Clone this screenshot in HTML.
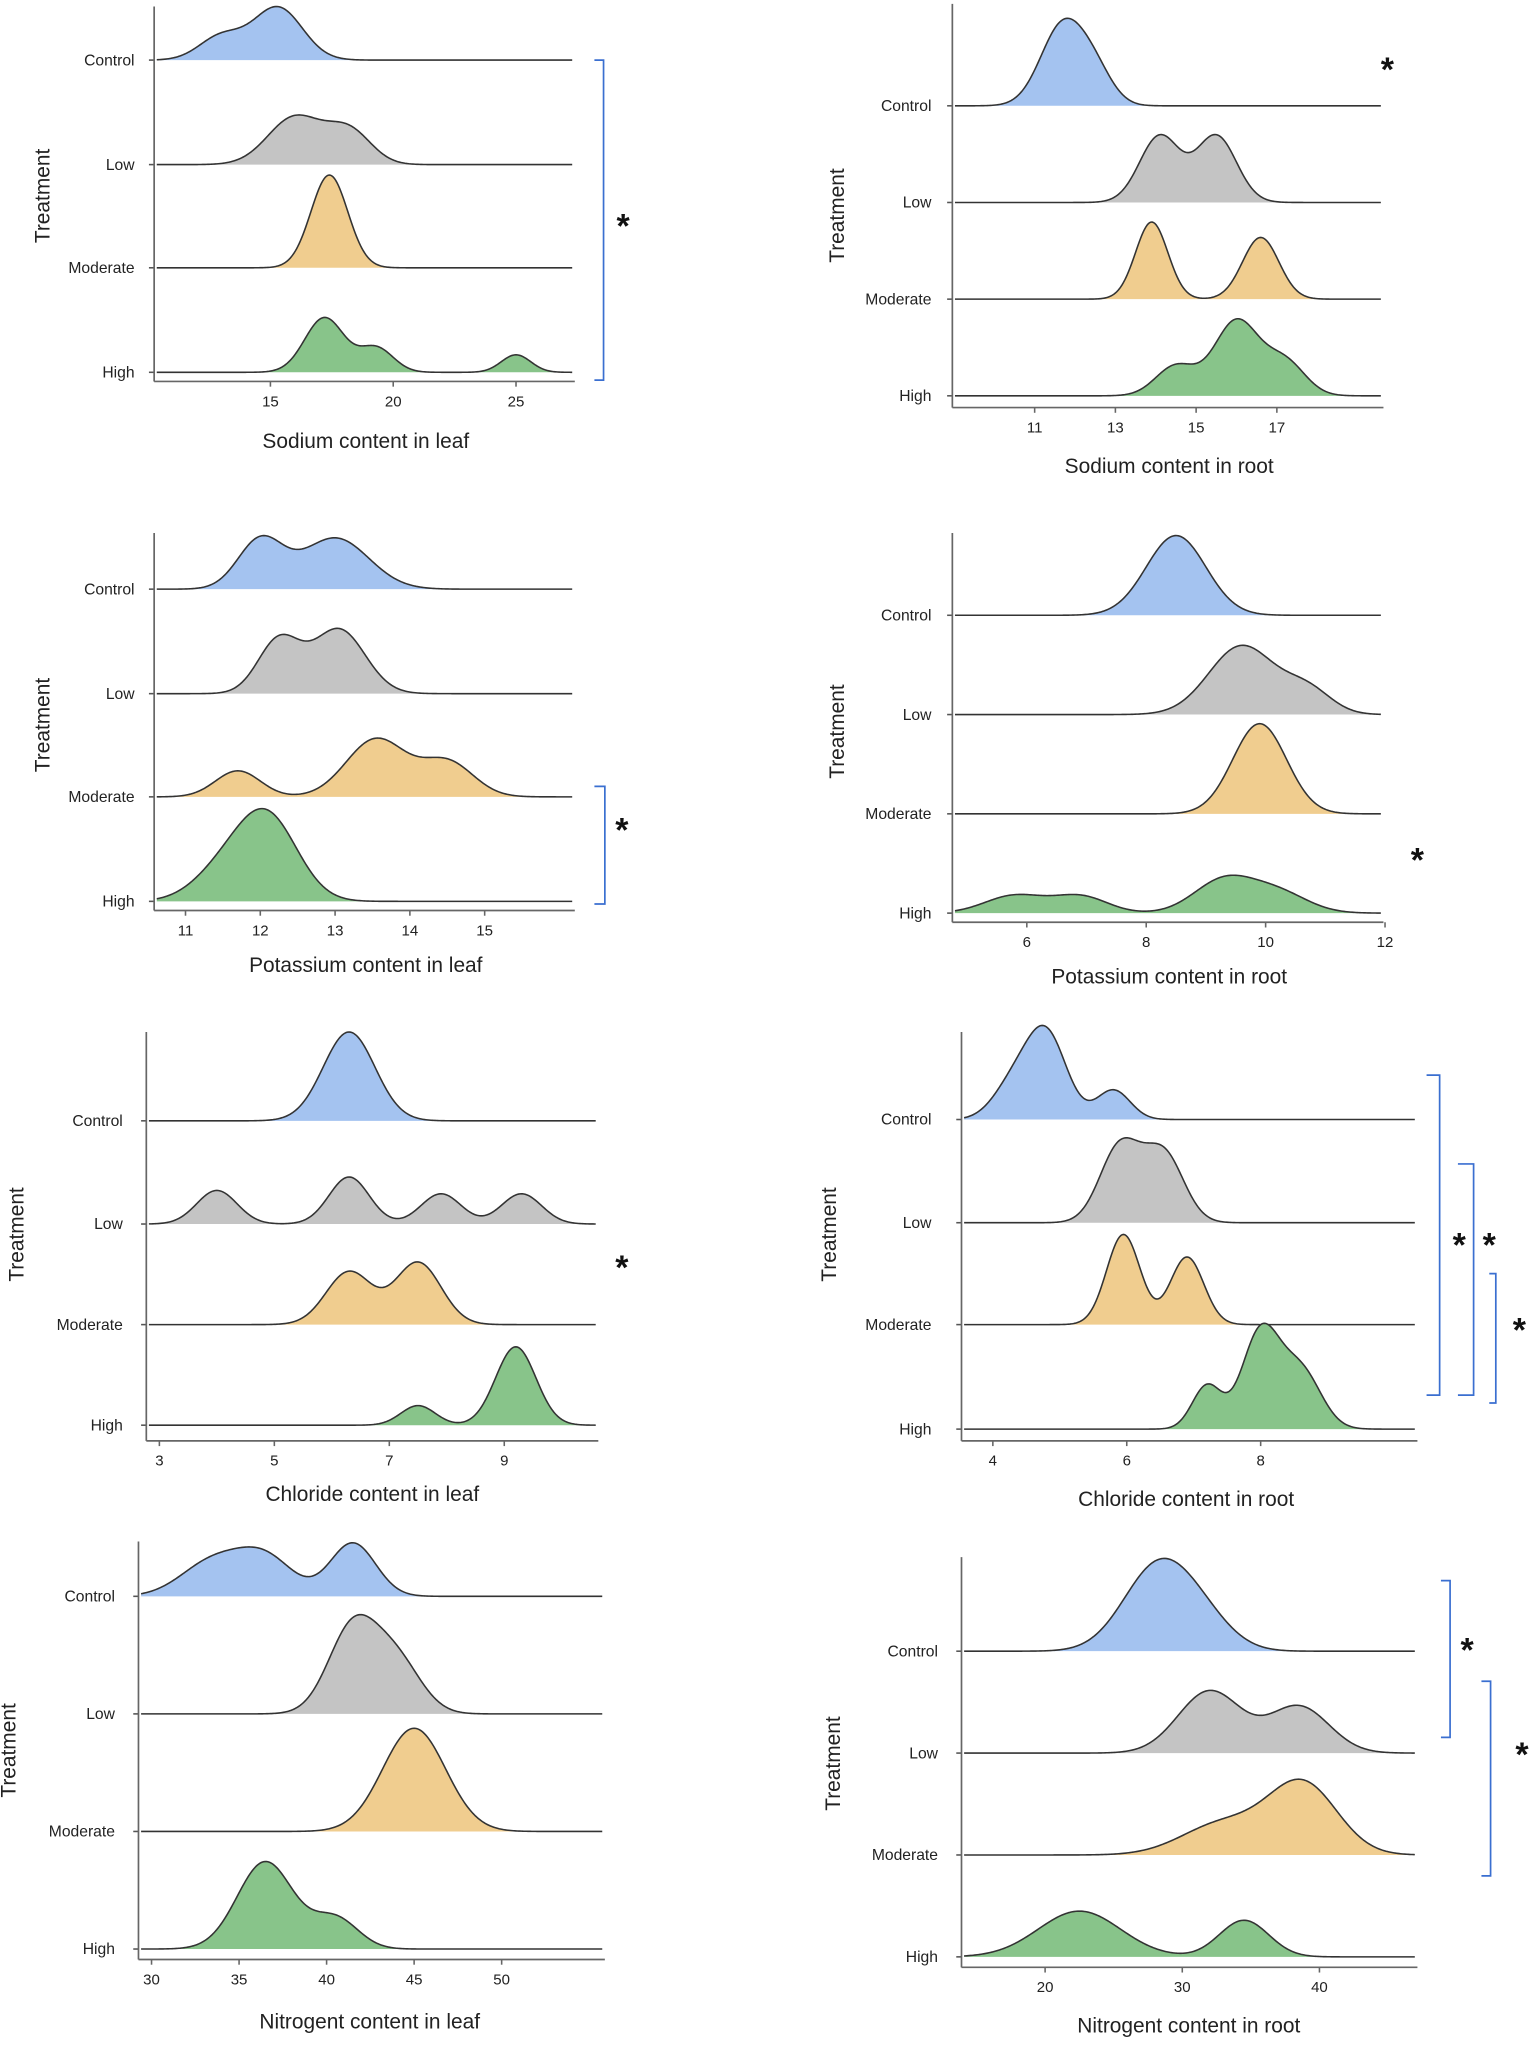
<!DOCTYPE html>
<html><head><meta charset="utf-8"><style>
html,body{margin:0;padding:0;background:#fff;}
svg{display:block;}
text{font-family:"Liberation Sans",sans-serif;fill:#222;}
</style></head><body>
<svg id="s" width="1535" height="2047" viewBox="0 0 1175 1567" preserveAspectRatio="none" xmlns="http://www.w3.org/2000/svg"></svg>
<script>
const cols=["#a4c3f0","#c4c4c4","#f0cd8f","#88c48a"];
const names=["Control","Low","Moderate","High"];
const P=[
{ax:118,top:5,base:[46,126,205,285],xa:292,end:438,v0:15,p0:207,ppu:18.8,ticks:[15,20,25],lr:103,xl:"Sodium content in leaf",xlx:280,xly:343,tx:38,ty:150,
 d:[[[15.3,1.0,1],[13,0.9,0.45]],[[16,1.1,1],[18.2,0.9,0.7]],[[17.4,0.75,1]],[[17.2,0.8,1],[19.3,0.7,0.45],[25,0.6,0.32]]],h:[41,38,71,42]},
{ax:729,top:3,base:[81,155,229,303],xa:312,end:1057,v0:11,p0:792,ppu:30.9,ticks:[11,13,15,17],lr:713,xl:"Sodium content in root",xlx:895,xly:362,tx:646,ty:165,
 d:[[[11.7,0.55,1],[12.5,0.45,0.35]],[[14.1,0.5,1],[15.5,0.5,1]],[[13.9,0.4,1],[16.6,0.45,0.8]],[[14.5,0.5,0.4],[16,0.55,1],[17.2,0.5,0.45]]],h:[67,52,59,59]},
{ax:118,top:408,base:[451,531,610,690],xa:697,end:438,v0:11,p0:142,ppu:57.25,ticks:[11,12,13,14,15],lr:103,xl:"Potassium content in leaf",xlx:280,xly:744,tx:38,ty:555,
 d:[[[12,0.3,1],[13,0.45,1.05]],[[12.25,0.28,1],[13.05,0.35,1.2]],[[11.7,0.3,0.45],[13.55,0.4,1],[14.5,0.35,0.6]],[[12.1,0.4,1],[11.5,0.4,0.35]]],h:[41,50,45,71]},
{ax:729,top:408,base:[471,547,623,699],xa:706,end:1057,v0:6,p0:786,ppu:45.7,ticks:[6,8,10,12],lr:713,xl:"Potassium content in root",xlx:895,xly:753,tx:646,ty:560,
 d:[[[8.5,0.5,1]],[[9.6,0.55,1],[10.7,0.4,0.35]],[[9.9,0.45,1]],[[5.8,0.5,0.35],[6.9,0.45,0.33],[9.3,0.5,0.65],[10.2,0.5,0.4]]],h:[61,53,69,29]},
{ax:112,top:790,base:[858,937,1014,1091],xa:1103,end:456,v0:3,p0:122,ppu:44,ticks:[3,5,7,9],lr:94,xl:"Chloride content in leaf",xlx:285,xly:1149,tx:18,ty:945,
 d:[[[6.3,0.45,1]],[[4,0.35,1],[6.3,0.35,1.4],[7.9,0.35,0.9],[9.3,0.35,0.9]],[[6.3,0.4,0.85],[7.5,0.4,1]],[[7.5,0.3,0.25],[9.2,0.35,1]]],h:[68,36,48,60]},
{ax:736,top:790,base:[857,936,1014,1094],xa:1103,end:1083,v0:4,p0:760,ppu:51.25,ticks:[4,6,8],lr:713,xl:"Chloride content in root",xlx:908,xly:1153,tx:640,ty:945,
 d:[[[4.8,0.3,1],[4.3,0.3,0.4],[5.8,0.25,0.35]],[[5.9,0.3,1],[6.55,0.3,0.9]],[[5.95,0.25,1],[6.9,0.25,0.75]],[[7.2,0.22,0.45],[8.0,0.28,1],[8.6,0.3,0.6]]],h:[72,65,69,81]},
{ax:106,top:1180,base:[1222,1312,1402,1492],xa:1500,end:461,v0:30,p0:116,ppu:13.4,ticks:[30,35,40,45,50],lr:88,xl:"Nitrogent content in leaf",xlx:283,xly:1553,tx:12,ty:1340,
 d:[[[33.5,1.8,0.65],[36.5,1.6,0.7],[41.5,1.3,1]],[[41.5,1.4,1],[44,1.4,0.6]],[[45,1.8,1]],[[36.5,1.6,1],[40.5,1.3,0.35]]],h:[41,76,79,67]},
{ax:736,top:1192,base:[1264,1342,1420,1498],xa:1506,end:1083,v0:20,p0:800,ppu:10.5,ticks:[20,30,40],lr:718,xl:"Nitrogent content in root",xlx:910,xly:1556,tx:643,ty:1350,
 d:[[[28.2,2.5,1],[31.5,2.2,0.3]],[[32,2.3,1],[38.5,2.2,0.75]],[[33,3,0.45],[38.8,2.5,1]],[[22.5,3,1],[34.5,1.8,0.8]]],h:[71,48,58,35]}
];
let o="";
for(const p of P){
  const x0=p.ax+2,x1=p.end;
  p.d.forEach((g,i)=>{
    const b=p.base[i];let pts=[],mx=0;
    for(let x=x0;x<=x1;x+=1){const v=p.v0+(x-p.p0)/p.ppu;let s=0;for(const[m,sd,w]of g)s+=w*Math.exp(-0.5*((v-m)/sd)**2);pts.push([x,s]);if(s>mx)mx=s;}
    const sc=p.h[i]/mx;
    let d=pts.map((q,k)=>(k?"L":"M")+q[0]+","+(b-q[1]*sc).toFixed(2)).join("");
    o+=`<path d="${d}L${x1},${b}L${x0},${b}Z" fill="${cols[i]}" stroke="none"/>`;
    o+=`<path d="${d}" fill="none" stroke="#333" stroke-width="1.2"/>`;
    o+=`<line x1="${p.ax-4}" x2="${p.ax}" y1="${b}" y2="${b}" stroke="#555" stroke-width="1.2"/>`;
    o+=`<text x="${p.lr}" y="${b+4}" font-size="12" text-anchor="end">${names[i]}</text>`;
  });
  o+=`<line x1="${p.ax}" x2="${p.ax}" y1="${p.top}" y2="${p.xa}" stroke="#666" stroke-width="1.3"/>`;
  o+=`<line x1="${p.ax}" x2="${p.end+2}" y1="${p.xa}" y2="${p.xa}" stroke="#666" stroke-width="1.3"/>`;
  for(const t of p.ticks){const x=p.p0+(t-p.v0)*p.ppu;
    o+=`<line x1="${x}" x2="${x}" y1="${p.xa}" y2="${p.xa+4}" stroke="#666" stroke-width="1.2"/>`;
    o+=`<text x="${x}" y="${p.xa+19}" font-size="11.5" text-anchor="middle">${t}</text>`;}
  o+=`<text x="${p.xlx}" y="${p.xly}" font-size="16" text-anchor="middle">${p.xl}</text>`;
  o+=`<text x="${p.tx}" y="${p.ty}" font-size="16" text-anchor="middle" transform="rotate(-90 ${p.tx} ${p.ty})">Treatment</text>`;
}
function br(x,y1,y2,w){return `<path d="M${x},${y1}H${x+w}V${y2}H${x}" fill="none" stroke="#3a6fd0" stroke-width="1.3"/>`;}
function st(x,y){return `<text x="${x}" y="${y+12}" font-size="26" font-weight="bold" text-anchor="middle" style="fill:#111">*</text>`;}
o+=br(455,46,291,7)+st(477,170);
o+=st(1062,50);
o+=br(455,602,692,8)+st(476,632);
o+=st(1085,655);
o+=st(476,967);
o+=br(1092,823,1068,10)+st(1117,950);
o+=br(1116,891,1068,12)+st(1140,950);
o+=br(1140,975,1074,5)+st(1163,1015);
o+=br(1103,1210,1330,7)+st(1123,1260);
o+=br(1134,1287,1436,7)+st(1165,1340);
document.getElementById("s").innerHTML=o;
</script>
</body></html>
